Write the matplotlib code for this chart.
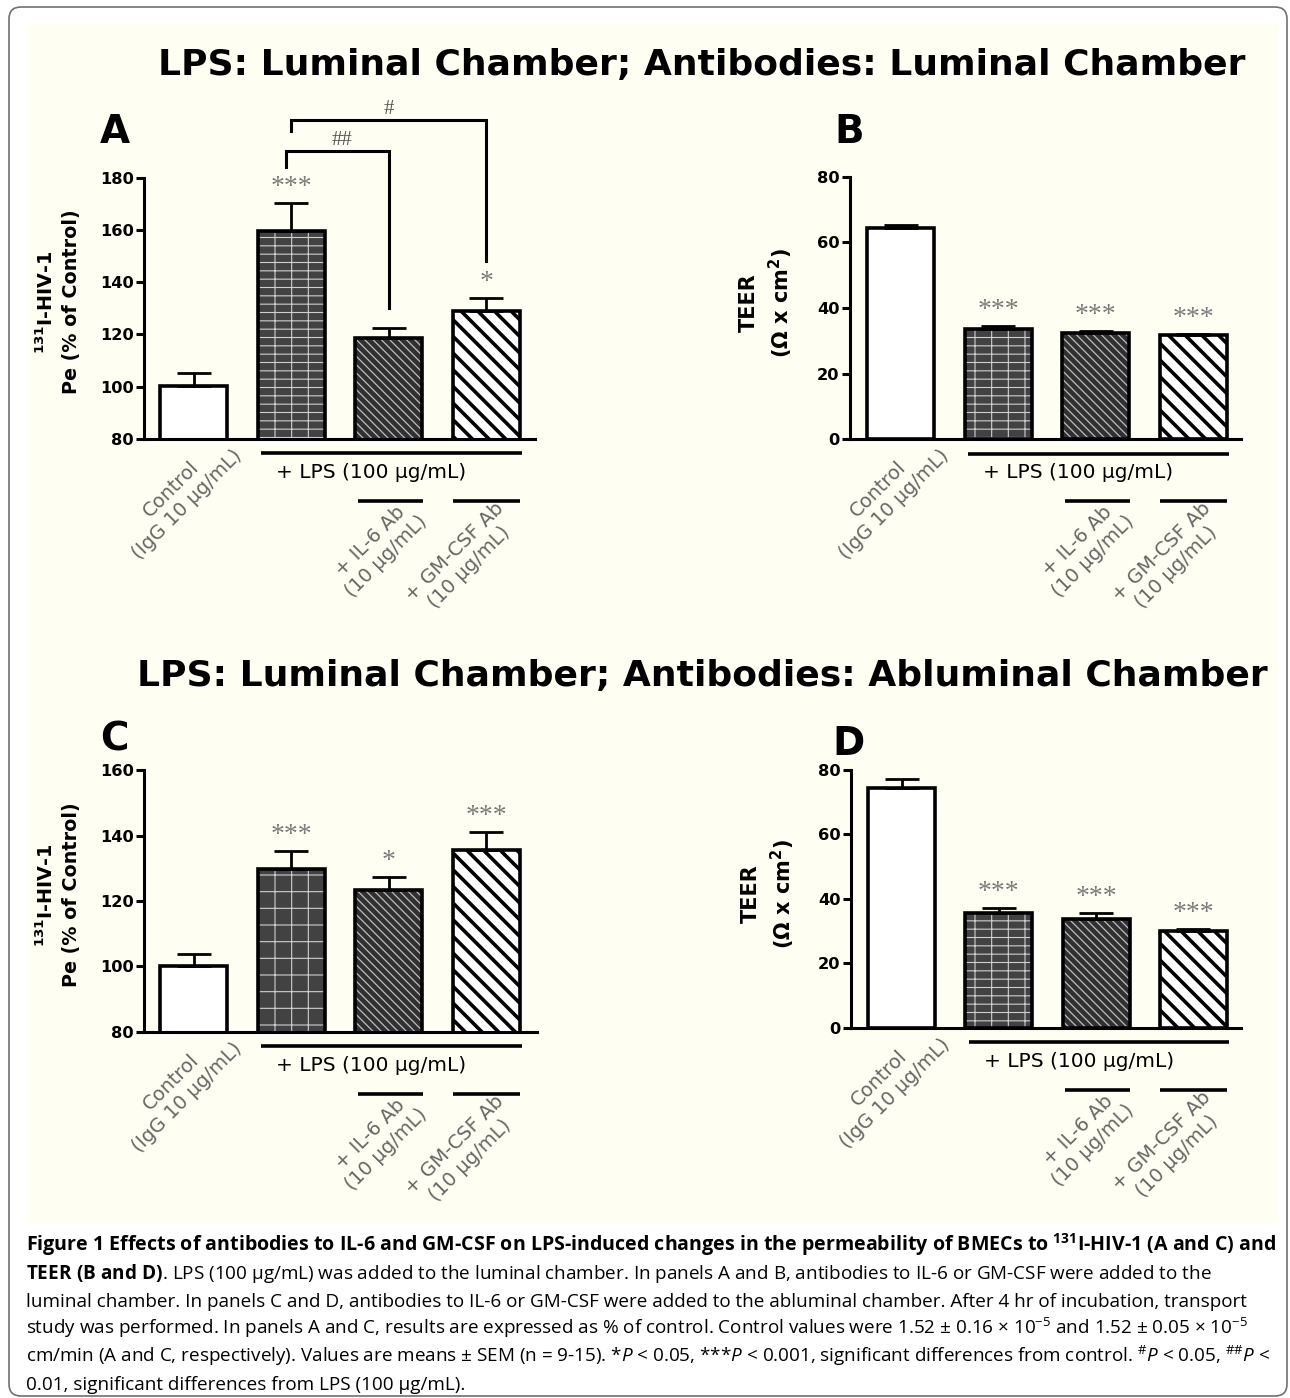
import numpy as np
import matplotlib
matplotlib.use("Agg")
import matplotlib.pyplot as plt
from matplotlib.patches import FancyBboxPatch, Rectangle
from matplotlib.transforms import IdentityTransform

# Figure size (pixels at dpi 100):
W_px, H_px = 1290, 1398

# Data:
# Pe of 131I-HIV-1 (% of control), mean and SEM
pe_lum = [100.4, 159.8, 118.8, 128.9]
pe_lum_sem = [4.9, 10.7, 3.8, 5.2]
pe_abl = [100.2, 129.9, 123.4, 135.6]
pe_abl_sem = [3.7, 5.3, 4.1, 5.6]
# TEER (ohm x cm2), mean and SEM
teer_lum = [64.3, 33.7, 32.3, 31.8]
teer_lum_sem = [0.9, 0.8, 0.7, 0.3]
teer_abl = [74.4, 35.5, 33.7, 30.1]
teer_abl_sem = [2.7, 1.7, 1.8, 0.5]

# Significance vs control:
stars_A = ['', '***', '', '*']
stars_B = ['', '***', '***', '***']
stars_C = ['', '***', '*', '***']
stars_D = ['', '***', '***', '***']

# Group labels:
group_labels = ['Control\n(IgG 10 µg/mL)', '',
                '+ IL-6 Ab\n(10 µg/mL)', '+ GM-CSF Ab\n(10 µg/mL)']
lps_label = '+ LPS (100 µg/mL)'

title_top = 'LPS: Luminal Chamber; Antibodies: Luminal Chamber'
title_bottom = 'LPS: Luminal Chamber; Antibodies: Abluminal Chamber'
ylabel_pe = '$^{\\mathbf{131}}$I-HIV-1\nPe (% of Control)'
ylabel_teer = 'TEER\n($\\mathbf{\\Omega}$ x cm$^{\\mathbf{2}}$)'

caption_lines = [
    'Figure 1 Effects of antibodies to IL-6 and GM-CSF on LPS-induced changes '
    'in the permeability of BMECs to $^{\\mathbf{131}}$I-HIV-1 (A and C) and',
    '$\\mathbf{TEER\\ (B\\ and\\ D)}$. LPS (100 µg/mL) was added to the luminal '
    'chamber. In panels A and B, antibodies to IL-6 or GM-CSF were added to the',
    'luminal chamber. In panels C and D, antibodies to IL-6 or GM-CSF were added '
    'to the abluminal chamber. After 4 hr of incubation, transport',
    'study was performed. In panels A and C, results are expressed as % of control. '
    'Control values were 1.52 ± 0.16 × 10$^{-5}$ and 1.52 ± 0.05 × 10$^{-5}$',
    'cm/min (A and C, respectively). Values are means ± SEM (n = 9-15). '
    '*$\\mathit{P}$ < 0.05, ***$\\mathit{P}$ < 0.001, significant differences from '
    'control. $^{\\#}\\mathit{P}$ < 0.05, $^{\\#\\#}\\mathit{P}$ <',
    '0.01, significant differences from LPS (100 µg/mL).',
]

# Bar styles: face, hatch colour, hatch, hatch linewidth
bar_styles = [('white', 'white', None, 0),
              ('#424242', '#d0d0d0', '--|', 0.8),
              ('#303030', '#bdbdbd', '\\\\\\\\', 0.9),
              ('white', 'black', '\\\\', 2.6)]
bar_w = 0.69

plt.rcParams['font.family'] = ['DejaVu Sans']
plt.rcParams['mathtext.rm'] = 'Open Sans'
plt.rcParams['mathtext.it'] = 'Open Sans:italic'
plt.rcParams['mathtext.bf'] = 'Open Sans:bold'

fig = plt.figure(figsize=(W_px / 100, H_px / 100), dpi=100)
fig.patch.set_facecolor('white')

# Cream panel and rounded frame (behind the axes):
fig.patches.append(Rectangle((28, H_px - 1223), 1249, 1200,
                             facecolor='#fefef2', edgecolor='none',
                             transform=IdentityTransform(), zorder=-2))
fig.patches.append(FancyBboxPatch((9, H_px - 1396), 1278, 1389,
                                  boxstyle='round,pad=0,rounding_size=12',
                                  facecolor='none', edgecolor='#707070',
                                  linewidth=1.2, transform=IdentityTransform(),
                                  zorder=-1))


def px_axes(left, top, right, bottom):
    return fig.add_axes([left / W_px, 1 - bottom / H_px,
                         (right - left) / W_px, (bottom - top) / H_px])


def bar_panel(ax, means, sems, stars, ylim, xlim, lps_hatch):
    x = np.arange(len(means))
    ax.set_facecolor('none')
    for i in x:
        face, hcol, hatch, hlw = bar_styles[i]
        if i == 1:
            hatch = lps_hatch
        b = ax.bar(i, means[i], width=bar_w, color=face, edgecolor=hcol,
                   linewidth=0, hatch=hatch, zorder=2)
        if hatch and hasattr(b[0], 'set_hatch_linewidth'):
            b[0].set_hatch_linewidth(hlw)
    ax.bar(x, means, width=bar_w, fill=False, edgecolor='black',
           linewidth=2.6, zorder=3)
    ax.errorbar(x, means, yerr=[np.zeros(len(sems)), sems], fmt='none',
                ecolor='black', elinewidth=2.0, capsize=12, capthick=2.0,
                zorder=4)
    for i, s in enumerate(stars):
        if s:
            ax.annotate(s, xy=(i, means[i] + sems[i]), xytext=(0, 6.5),
                        textcoords='offset points', ha='center',
                        va='baseline', fontsize=20, color='#7a7a7a',
                        family='Liberation Serif')
    ax.set_xlim(xlim)
    ax.set_ylim(ylim)
    ticks = np.arange(ylim[0], ylim[1] + 1, 20)
    ax.set_yticks(ticks, [str(t) for t in ticks], fontweight='bold',
                  fontsize=11.7)
    ax.set_xticks([])
    ax.spines[['top', 'right']].set_visible(False)
    ax.spines[['left', 'bottom']].set_linewidth(2.2)
    ax.tick_params(axis='y', direction='out', length=6, width=2.2, pad=1.5)

    # Annotation of the treatment groups under the x axis:
    h = ax.get_position().height * H_px
    tr = ax.get_xaxis_transform()
    ax.plot([0.69, 3.37], [-14.5 / h] * 2, color='black', lw=2.6,
            transform=tr, clip_on=False, solid_capstyle='butt')
    ax.text(1.82, -34 / h, lps_label, transform=tr, ha='center',
            va='center', fontsize=14.5)
    for x0, x1 in [(1.68, 2.35), (2.66, 3.35)]:
        ax.plot([x0, x1], [-62 / h] * 2, color='black', lw=2.6,
                transform=tr, clip_on=False, solid_capstyle='butt')
    for i, dx, below in [(0, -0.15, 58), (2, -0.11, 110), (3, -0.25, 121)]:
        ax.text(i + dx, -below / h, group_labels[i], transform=tr,
                rotation=45, ha='center', va='center', multialignment='center',
                fontsize=14, color='#666666')


ax_A = px_axes(144, 178, 535, 438.8)
ax_B = px_axes(850, 177, 1241, 439)
ax_C = px_axes(144, 770.4, 537, 1031.8)
ax_D = px_axes(851, 769.6, 1241, 1027.6)

bar_panel(ax_A, pe_lum, pe_lum_sem, stars_A, (80, 180), (-0.51, 3.5), '--|')
bar_panel(ax_B, teer_lum, teer_lum_sem, stars_B, (0, 80), (-0.52, 3.49), '--|')
bar_panel(ax_C, pe_abl, pe_abl_sem, stars_C, (80, 160), (-0.51, 3.52), '+')
bar_panel(ax_D, teer_abl, teer_abl_sem, stars_D, (0, 80), (-0.52, 3.49), '--|')

# LPS vs antibody brackets (panel A):
brackets_A = [(1.0, 3.0, 202.4, 198.2, 148.2, '#', 2.0),
              (0.95, 2.0, 190.4, 184.4, 130.2, '##', 1.52)]
for xl, xr, ytop, yl, yr, lab, xt in brackets_A:
    ax_A.plot([xl, xl, xr, xr], [yl, ytop, ytop, yr], color='black', lw=2.2,
              clip_on=False, solid_joinstyle='miter')
    ax_A.annotate(lab, xy=(xt, ytop), xytext=(0, 7.5),
                  textcoords='offset points', ha='center', va='center',
                  fontsize=15, color='#555555', family='Liberation Serif',
                  annotation_clip=False)

# Y labels:
for x, y, lab, fs in [(58, 302, ylabel_pe, 13.8), (767, 303, ylabel_teer, 15),
                      (58, 895, ylabel_pe, 13.8), (769, 894, ylabel_teer, 15)]:
    fig.text(x / W_px, 1 - y / H_px, lab, rotation=90, ha='center',
             va='center', multialignment='center', fontsize=fs,
             fontweight='bold', linespacing=1.35, math_fontfamily='dejavusans')

# Panel letters:
for x, y, lab in [(115, 143, 'A'), (849, 143, 'B'),
                  (114, 750.7, 'C'), (848, 754.6, 'D')]:
    fig.text(x / W_px, 1 - y / H_px, lab, ha='center', va='baseline',
             fontsize=28, fontweight='bold')

renderer = fig.canvas.get_renderer()

# Section titles (size fitted to the width in the original):
t1 = fig.text(157.5 / W_px, 1 - 75.5 / H_px, title_top, ha='left',
              va='baseline', fontsize=26, fontweight='bold')
fs_title = 26 * 1087 / t1.get_window_extent(renderer).width
t1.set_fontsize(fs_title)
fig.text(137 / W_px, 1 - 686.4 / H_px, title_bottom, ha='left',
         va='baseline', fontsize=fs_title, fontweight='bold')

# Caption (bold first line and regular lines fitted separately):
cap = []
for k, line in enumerate(caption_lines):
    t = fig.text(26 / W_px, 1 - (1251 + 27.8 * k) / H_px, line, ha='left',
                 va='baseline', fontsize=11, family='Open Sans',
                 fontweight='bold' if k == 0 else 'normal',
                 math_fontfamily='custom')
    cap.append(t)
fs_bold = 11 * 1251 / cap[0].get_window_extent(renderer).width
fs_reg = 11 * 1217 / cap[3].get_window_extent(renderer).width
cap[0].set_fontsize(fs_bold)
for t in cap[1:]:
    t.set_fontsize(fs_reg)

fig.savefig('out.png', dpi=100, facecolor='white')
